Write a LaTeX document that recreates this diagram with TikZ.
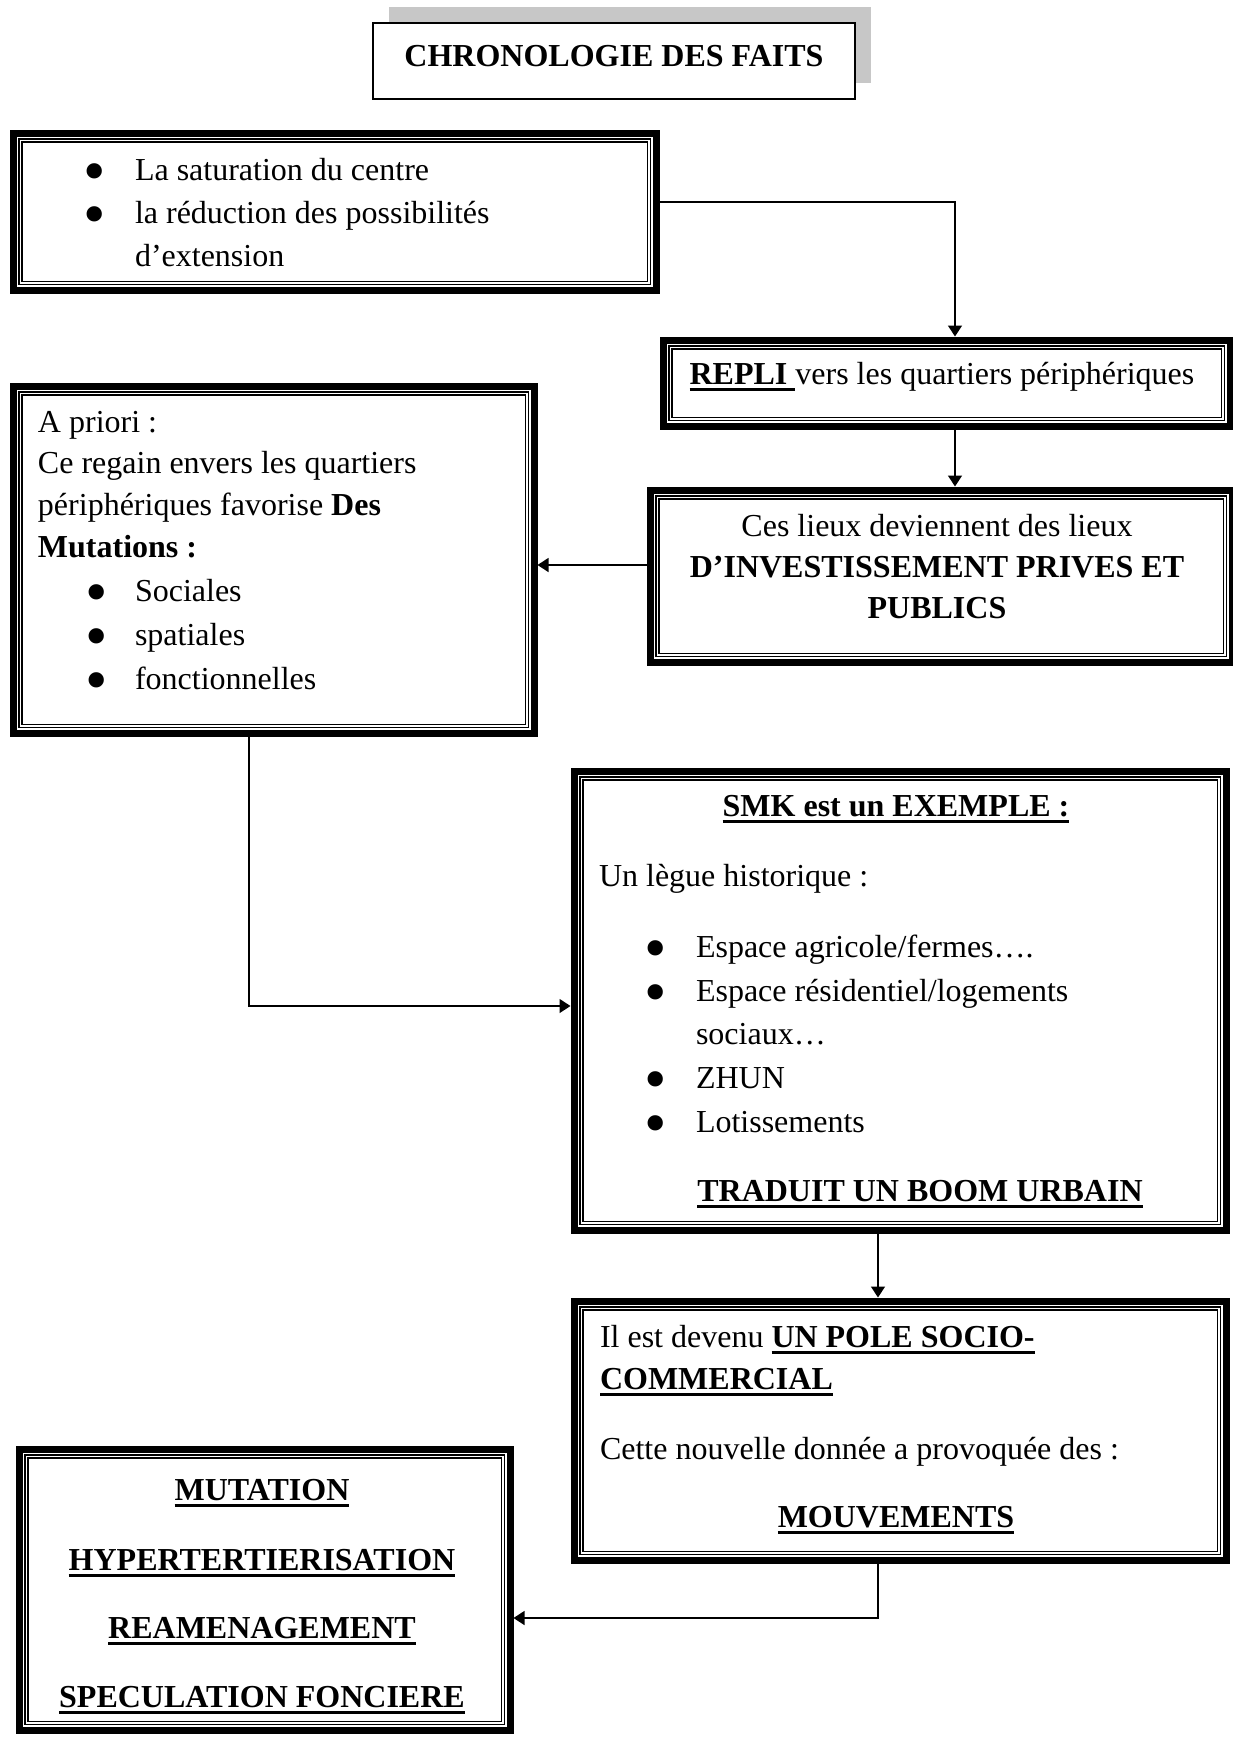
\documentclass[tikz,border=0pt]{standalone}
\usepackage{fontspec}
\setmainfont{Liberation Serif}
\usetikzlibrary{arrows.meta,shadows}
\newcommand\myul[1]{\setbox0\hbox{#1}\rlap{\rule[-3.4pt]{\wd0}{1.3pt}}\box0}
\newcommand\mybul{\raisebox{-6.1pt}{\scalebox{2}{•}}}
\newcommand\tbox[5]{\node[tribox, minimum width={(#4-#2-7)*0.5pt}, minimum height={(#5-#3-7)*0.5pt}] (#1) at ({#2+3.5},{#3+3.5}) {};}
\begin{document}
\begin{tikzpicture}[x=0.5pt,y=-0.5pt,
  txt/.style={font=\fontsize{16}{20}\selectfont, inner sep=0pt, outer sep=0pt},
  tribox/.style={draw, line width=3.5pt, outer sep=1.75pt, inner sep=0pt, anchor=north west,
    path picture={
      \draw[line width=0.65pt] ([shift={(2.925pt,-2.925pt)}]path picture bounding box.north west) rectangle ([shift={(-2.925pt,2.925pt)}]path picture bounding box.south east);
      \draw[line width=0.65pt] ([shift={(4.425pt,-4.425pt)}]path picture bounding box.north west) rectangle ([shift={(-4.425pt,4.425pt)}]path picture bounding box.south east);
    }},
  titlebox/.style={draw, line width=0.65pt, fill=white, inner sep=0pt, outer sep=0pt, anchor=north west,
    drop shadow={shadow xshift=8pt, shadow yshift=8pt, fill=black!22, opacity=1, draw=none}},
  conn/.style={line width=0.65pt, -{Triangle[width=7pt,length=5.5pt]}}]
\useasboundingbox (0,0) rectangle (1233,1737);

% title
\node[titlebox, minimum width=241pt, minimum height=38pt] (title) at (373,23) {};
\node[txt, anchor=base, font=\fontsize{16}{20}\selectfont\bfseries] (titletxt) at (614,66) {CHRONOLOGIE DES FAITS};

% boxes
\tbox{b1}{6}{126}{656}{290}
\tbox{repli}{656}{333}{1230}{426}
\tbox{apriori}{6}{379}{534}{733}
\tbox{lieux}{643}{483}{1232}{662}
\tbox{smk}{567}{764}{1226}{1230}
\tbox{pole}{567}{1294}{1226}{1560}
\tbox{mut}{12}{1442}{510}{1730}

% box 1 text
\node[txt, anchor=base] (b1d1) at (95,180) {\mybul};
\node[txt, anchor=base] (b1d2) at (95,223) {\mybul};
\node[txt, anchor=base west] (b1t1) at (135,180) {La saturation du centre};
\node[txt, anchor=base west] (b1t2) at (135,223) {la réduction des possibilités};
\node[txt, anchor=base west] (b1t3) at (135,266) {d’extension};

% repli text
\node[txt, anchor=base] (replitxt) at (942,384) {\myul{\textbf{REPLI}\ }vers les quartiers périphériques};

% lieux text
\node[txt, anchor=base] (lt1) at (937,536) {Ces lieux deviennent des lieux};
\node[txt, anchor=base] (lt2) at (937,577) {\textbf{D’INVESTISSEMENT PRIVES ET}};
\node[txt, anchor=base] (lt3) at (937,618) {\textbf{PUBLICS}};

% a priori text
\node[txt, anchor=base west] (at1) at (38,432) {A priori :};
\node[txt, anchor=base west] (at2) at (38,473) {Ce regain envers les quartiers};
\node[txt, anchor=base west] (at3) at (38,515) {périphériques favorise \textbf{Des}};
\node[txt, anchor=base west] (at4) at (38,557) {\textbf{Mutations :}};
\node[txt, anchor=base] (ad1) at (97,601) {\mybul};
\node[txt, anchor=base] (ad2) at (97,645) {\mybul};
\node[txt, anchor=base] (ad3) at (97,689) {\mybul};
\node[txt, anchor=base west] (at5) at (135,601) {Sociales};
\node[txt, anchor=base west] (at6) at (135,645) {spatiales};
\node[txt, anchor=base west] (at7) at (135,689) {fonctionnelles};

% smk text
\node[txt, anchor=base] (st1) at (896,816) {\myul{\textbf{SMK est un EXEMPLE :}}};
\node[txt, anchor=base west] (st2) at (599,886) {Un lègue historique :};
\node[txt, anchor=base] (sd1) at (656,957) {\mybul};
\node[txt, anchor=base] (sd2) at (656,1001) {\mybul};
\node[txt, anchor=base] (sd3) at (656,1088) {\mybul};
\node[txt, anchor=base] (sd4) at (656,1132) {\mybul};
\node[txt, anchor=base west] (st3) at (696,957) {Espace agricole/fermes….};
\node[txt, anchor=base west] (st4) at (696,1001) {Espace résidentiel/logements};
\node[txt, anchor=base west] (st5) at (696,1044) {sociaux…};
\node[txt, anchor=base west] (st6) at (696,1088) {ZHUN};
\node[txt, anchor=base west] (st7) at (696,1132) {Lotissements};
\node[txt, anchor=base] (st8) at (920,1201) {\myul{\textbf{TRADUIT UN BOOM URBAIN}}};

% pole text
\node[txt, anchor=base west] (pt1) at (600,1347) {Il est devenu \myul{\textbf{UN POLE SOCIO-}}};
\node[txt, anchor=base west] (pt2) at (600,1389) {\myul{\textbf{COMMERCIAL}}};
\node[txt, anchor=base west] (pt3) at (600,1459) {Cette nouvelle donnée a provoquée des :};
\node[txt, anchor=base] (pt4) at (896,1527) {\myul{\textbf{MOUVEMENTS}}};

% mutation text
\node[txt, anchor=base] (mt1) at (262,1500) {\myul{\textbf{MUTATION}}};
\node[txt, anchor=base] (mt2) at (262,1570) {\myul{\textbf{HYPERTERTIERISATION}}};
\node[txt, anchor=base] (mt3) at (262,1638) {\myul{\textbf{REAMENAGEMENT}}};
\node[txt, anchor=base] (mt4) at (262,1707) {\myul{\textbf{SPECULATION FONCIERE}}};

% connectors
\coordinate (c1) at (955,202);
\coordinate (c3) at (0,565);
\coordinate (c4) at (249,1006);
\coordinate (c5) at (878,1618);
\draw[conn] (b1.east |- c1) -| (repli.north -| c1);
\draw[conn] (repli.south -| c1) -- (lieux.north -| c1);
\draw[conn] (lieux.west |- c3) -- (apriori.east |- c3);
\draw[conn] (apriori.south -| c4) |- (smk.west |- c4);
\draw[conn] (smk.south -| c5) -- (pole.north -| c5);
\draw[conn] (pole.south -| c5) |- (mut.east |- c5);
\end{tikzpicture}
\end{document}
